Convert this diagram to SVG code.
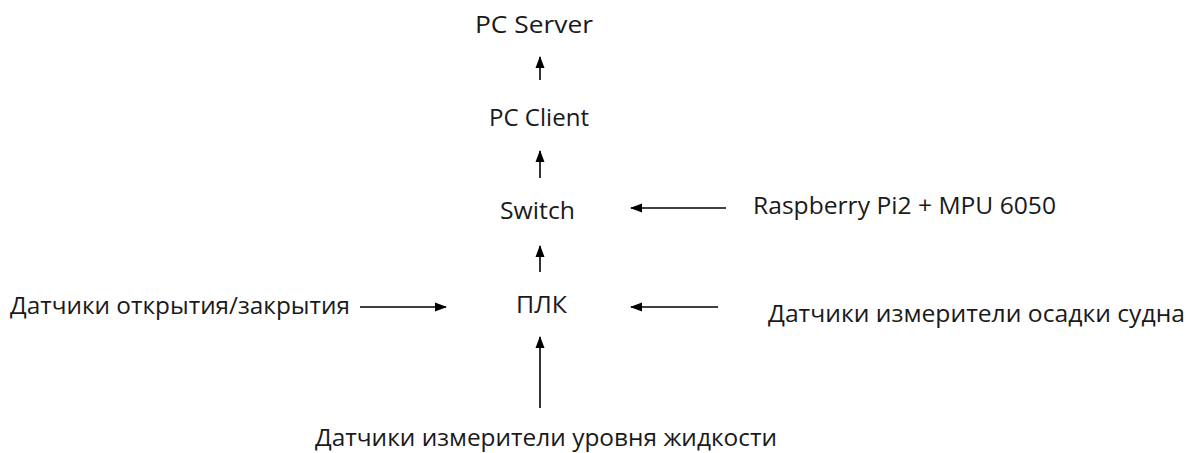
<svg xmlns="http://www.w3.org/2000/svg" width="1186" height="453" viewBox="0 0 1186 453">
<style>
text{font-family:"Open Sans","Liberation Sans",sans-serif;font-size:24px;fill:#1a1a1a}
.c line{stroke:#000;stroke-width:1.6;marker-end:url(#ah)}
</style>
<defs>
<marker id="ah" viewBox="0 0 12 10" refX="11" refY="5" markerWidth="12" markerHeight="10" markerUnits="userSpaceOnUse" orient="auto"><path d="M0,0.5 L12,5 L0,9.5 z" fill="#000"/></marker>
</defs>
<rect width="1186" height="453" fill="#fff"/>
<g id="server"><text x="475" y="33" textLength="118" lengthAdjust="spacingAndGlyphs">PC Server</text></g>
<g id="client"><text x="489" y="126" textLength="100" lengthAdjust="spacingAndGlyphs">PC Client</text></g>
<g id="switch"><text x="500" y="219" textLength="75" lengthAdjust="spacingAndGlyphs">Switch</text></g>
<g id="raspberry"><text x="753" y="214" textLength="303" lengthAdjust="spacingAndGlyphs">Raspberry Pi2 + MPU 6050</text></g>
<g id="plc"><text x="516" y="313" textLength="51" lengthAdjust="spacingAndGlyphs">ПЛК</text></g>
<g id="open-close"><text x="10" y="314" textLength="340" lengthAdjust="spacingAndGlyphs">Датчики открытия/закрытия</text></g>
<g id="draft"><text x="768" y="322" textLength="417" lengthAdjust="spacingAndGlyphs">Датчики измерители осадки судна</text></g>
<g id="level"><text x="315" y="446" textLength="462" lengthAdjust="spacingAndGlyphs">Датчики измерители уровня жидкости</text></g>
<g class="c" id="connectors">
<line x1="540" y1="80" x2="540" y2="57"/>
<line x1="540" y1="178" x2="540" y2="151"/>
<line x1="540" y1="272" x2="540" y2="246"/>
<line x1="726" y1="208" x2="631" y2="208"/>
<line x1="360" y1="307" x2="446" y2="307"/>
<line x1="718" y1="307" x2="631" y2="307"/>
<line x1="540" y1="408" x2="540" y2="337"/>
</g>
</svg>
